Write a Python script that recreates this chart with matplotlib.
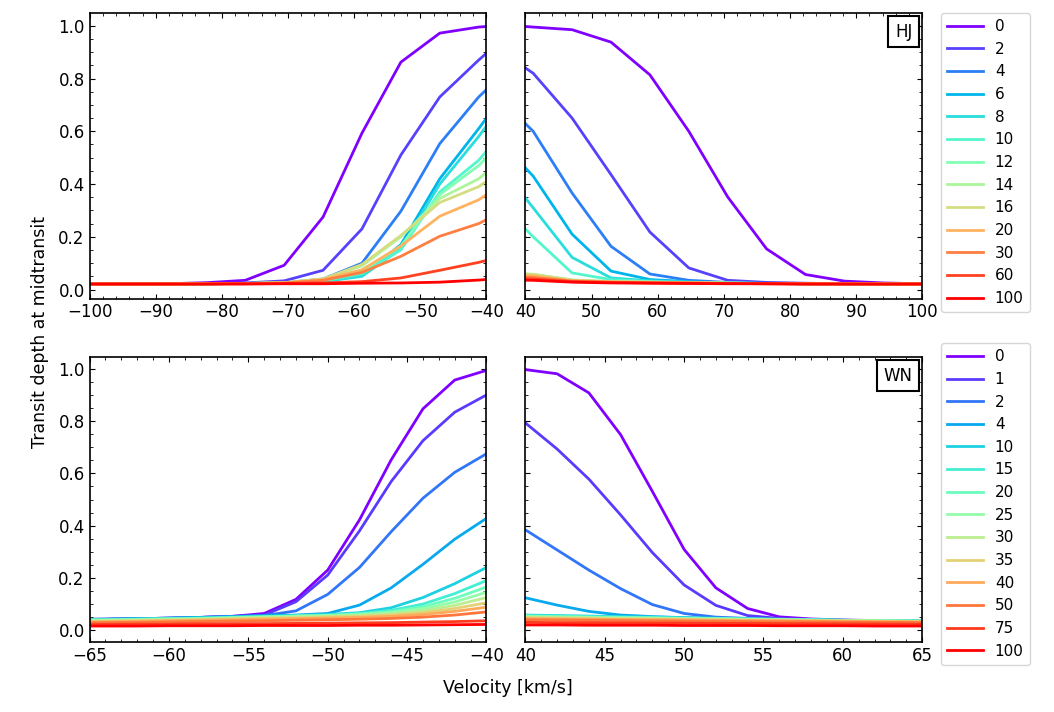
import numpy as np
import matplotlib
matplotlib.use("Agg")
import matplotlib.pyplot as plt
from matplotlib.ticker import AutoMinorLocator, MultipleLocator

# --- Data ---
# HJ model: velocity grid of 35 points from -100 to 100 km/s
HJ_V = np.linspace(-100, 100, 35)
HJ_V_LEFT = HJ_V[:12]     # -100 ... -35.3
HJ_V_RIGHT = HJ_V[23:]    # 35.3 ... 100
HJ_LABELS = ["0", "2", "4", "6", "8", "10", "12", "14", "16", "20", "30", "60", "100"]

HJ_LEFT = [
    [0.021, 0.021, 0.022, 0.026, 0.035, 0.092, 0.275, 0.593, 0.862, 0.972, 0.995, 1.005],
    [0.021, 0.021, 0.021, 0.022, 0.025, 0.033, 0.073, 0.230, 0.510, 0.730, 0.870, 1.000],
    [0.021, 0.021, 0.021, 0.022, 0.023, 0.026, 0.040, 0.100, 0.297, 0.553, 0.730, 0.870],
    [0.021, 0.021, 0.021, 0.022, 0.023, 0.025, 0.030, 0.055, 0.170, 0.420, 0.610, 0.810],
    [0.021, 0.021, 0.021, 0.022, 0.023, 0.025, 0.030, 0.050, 0.155, 0.400, 0.580, 0.780],
    [0.021, 0.021, 0.021, 0.022, 0.023, 0.025, 0.032, 0.060, 0.150, 0.370, 0.490, 0.665],
    [0.021, 0.021, 0.021, 0.022, 0.023, 0.025, 0.035, 0.070, 0.165, 0.360, 0.470, 0.620],
    [0.021, 0.021, 0.021, 0.022, 0.023, 0.026, 0.040, 0.090, 0.200, 0.345, 0.420, 0.540],
    [0.021, 0.021, 0.021, 0.022, 0.023, 0.026, 0.040, 0.095, 0.205, 0.330, 0.390, 0.490],
    [0.021, 0.021, 0.021, 0.022, 0.023, 0.025, 0.038, 0.075, 0.165, 0.278, 0.340, 0.440],
    [0.021, 0.021, 0.021, 0.022, 0.023, 0.025, 0.035, 0.065, 0.126, 0.202, 0.250, 0.325],
    [0.021, 0.021, 0.021, 0.021, 0.022, 0.023, 0.025, 0.030, 0.044, 0.073, 0.103, 0.140],
    [0.021, 0.021, 0.021, 0.021, 0.021, 0.022, 0.022, 0.024, 0.025, 0.028, 0.036, 0.046],
]

HJ_RIGHT = [
    [1.005, 0.995, 0.985, 0.938, 0.814, 0.600, 0.351, 0.154, 0.057, 0.032, 0.025, 0.022],
    [0.920, 0.820, 0.650, 0.436, 0.218, 0.082, 0.035, 0.027, 0.024, 0.022, 0.022, 0.021],
    [0.745, 0.600, 0.366, 0.164, 0.059, 0.035, 0.027, 0.024, 0.022, 0.022, 0.021, 0.021],
    [0.585, 0.430, 0.210, 0.070, 0.038, 0.030, 0.025, 0.023, 0.022, 0.022, 0.021, 0.021],
    [0.495, 0.310, 0.122, 0.044, 0.033, 0.028, 0.025, 0.023, 0.022, 0.022, 0.021, 0.021],
    [0.350, 0.200, 0.063, 0.038, 0.030, 0.027, 0.025, 0.023, 0.022, 0.022, 0.021, 0.021],
    [0.062, 0.057, 0.036, 0.030, 0.028, 0.026, 0.024, 0.023, 0.022, 0.022, 0.021, 0.021],
    [0.063, 0.058, 0.036, 0.030, 0.028, 0.026, 0.024, 0.023, 0.022, 0.022, 0.021, 0.021],
    [0.062, 0.057, 0.035, 0.030, 0.028, 0.026, 0.024, 0.023, 0.022, 0.022, 0.021, 0.021],
    [0.056, 0.052, 0.034, 0.029, 0.027, 0.025, 0.024, 0.023, 0.022, 0.022, 0.021, 0.021],
    [0.050, 0.046, 0.032, 0.028, 0.026, 0.025, 0.023, 0.022, 0.022, 0.021, 0.021, 0.021],
    [0.043, 0.040, 0.030, 0.027, 0.025, 0.024, 0.023, 0.022, 0.021, 0.021, 0.021, 0.021],
    [0.037, 0.035, 0.028, 0.025, 0.024, 0.023, 0.022, 0.022, 0.021, 0.021, 0.021, 0.021],
]

# WN model: velocity grid in steps of 2 km/s
WN_V_LEFT = np.arange(-66, -39, 2)
WN_V_RIGHT = np.arange(40, 67, 2)
WN_LABELS = ["0", "1", "2", "4", "10", "15", "20", "25", "30", "35", "40", "50", "75", "100"]

WN_LEFT = [
    [0.041, 0.042, 0.044, 0.046, 0.049, 0.053, 0.064, 0.118, 0.230, 0.422, 0.652, 0.847, 0.957, 0.994],
    [0.041, 0.042, 0.044, 0.046, 0.049, 0.053, 0.058, 0.109, 0.211, 0.380, 0.569, 0.725, 0.834, 0.900],
    [0.041, 0.042, 0.044, 0.046, 0.049, 0.052, 0.056, 0.074, 0.137, 0.240, 0.377, 0.505, 0.604, 0.675],
    [0.041, 0.042, 0.044, 0.046, 0.049, 0.052, 0.055, 0.058, 0.064, 0.096, 0.162, 0.252, 0.348, 0.428],
    [0.040, 0.041, 0.043, 0.045, 0.047, 0.050, 0.053, 0.056, 0.060, 0.067, 0.086, 0.125, 0.178, 0.240],
    [0.039, 0.040, 0.042, 0.044, 0.046, 0.049, 0.052, 0.055, 0.058, 0.064, 0.076, 0.100, 0.140, 0.190],
    [0.038, 0.039, 0.041, 0.043, 0.045, 0.048, 0.051, 0.054, 0.057, 0.062, 0.071, 0.090, 0.122, 0.165],
    [0.037, 0.038, 0.040, 0.042, 0.044, 0.047, 0.050, 0.053, 0.055, 0.059, 0.067, 0.082, 0.108, 0.145],
    [0.035, 0.036, 0.038, 0.040, 0.042, 0.045, 0.048, 0.050, 0.053, 0.056, 0.062, 0.074, 0.095, 0.125],
    [0.033, 0.034, 0.036, 0.038, 0.040, 0.043, 0.045, 0.047, 0.050, 0.053, 0.058, 0.067, 0.083, 0.105],
    [0.031, 0.032, 0.034, 0.036, 0.038, 0.040, 0.042, 0.044, 0.046, 0.049, 0.053, 0.060, 0.072, 0.088],
    [0.028, 0.029, 0.030, 0.032, 0.033, 0.035, 0.036, 0.038, 0.040, 0.042, 0.045, 0.050, 0.058, 0.070],
    [0.021, 0.022, 0.023, 0.023, 0.024, 0.025, 0.025, 0.026, 0.027, 0.028, 0.029, 0.031, 0.033, 0.036],
    [0.016, 0.016, 0.016, 0.017, 0.017, 0.017, 0.018, 0.018, 0.018, 0.019, 0.019, 0.020, 0.021, 0.022],
]

WN_RIGHT = [
    [0.997, 0.981, 0.908, 0.748, 0.531, 0.309, 0.162, 0.083, 0.051, 0.043, 0.039, 0.037, 0.035, 0.034],
    [0.793, 0.693, 0.578, 0.441, 0.297, 0.173, 0.095, 0.056, 0.045, 0.041, 0.038, 0.036, 0.035, 0.034],
    [0.384, 0.307, 0.230, 0.159, 0.098, 0.064, 0.050, 0.045, 0.042, 0.040, 0.038, 0.036, 0.035, 0.034],
    [0.124, 0.096, 0.072, 0.058, 0.052, 0.048, 0.045, 0.043, 0.041, 0.039, 0.037, 0.036, 0.035, 0.034],
    [0.058, 0.056, 0.054, 0.052, 0.050, 0.048, 0.046, 0.044, 0.042, 0.040, 0.038, 0.037, 0.036, 0.035],
    [0.056, 0.054, 0.052, 0.050, 0.048, 0.046, 0.045, 0.043, 0.041, 0.040, 0.038, 0.037, 0.036, 0.035],
    [0.054, 0.052, 0.050, 0.049, 0.047, 0.045, 0.044, 0.042, 0.041, 0.039, 0.038, 0.036, 0.035, 0.034],
    [0.052, 0.050, 0.049, 0.047, 0.046, 0.044, 0.043, 0.041, 0.040, 0.038, 0.037, 0.036, 0.035, 0.034],
    [0.050, 0.048, 0.047, 0.045, 0.044, 0.043, 0.041, 0.040, 0.039, 0.037, 0.036, 0.035, 0.034, 0.033],
    [0.047, 0.046, 0.044, 0.043, 0.042, 0.041, 0.039, 0.038, 0.037, 0.036, 0.035, 0.034, 0.033, 0.032],
    [0.044, 0.043, 0.042, 0.041, 0.040, 0.039, 0.038, 0.037, 0.036, 0.035, 0.034, 0.033, 0.032, 0.031],
    [0.040, 0.039, 0.038, 0.037, 0.036, 0.035, 0.034, 0.033, 0.032, 0.032, 0.031, 0.030, 0.030, 0.029],
    [0.030, 0.029, 0.029, 0.028, 0.027, 0.027, 0.026, 0.026, 0.025, 0.025, 0.024, 0.024, 0.023, 0.023],
    [0.020, 0.020, 0.019, 0.019, 0.019, 0.018, 0.018, 0.018, 0.017, 0.017, 0.017, 0.016, 0.016, 0.016],
]


def style_axis(ax, x_major):
    ax.tick_params(which="both", direction="in", top=True, right=True, labelsize=12)
    ax.xaxis.set_major_locator(MultipleLocator(x_major))
    ax.xaxis.set_minor_locator(AutoMinorLocator())
    ax.yaxis.set_major_locator(MultipleLocator(0.2))
    ax.yaxis.set_minor_locator(AutoMinorLocator())
    for sp in ax.spines.values():
        sp.set_linewidth(1.2)


def plot_row(ax_l, ax_r, vl, vr, left, right, labels, xlim_l, xlim_r, ylim, tag, x_major, legend_y):
    colors = plt.cm.rainbow(np.linspace(0, 1, len(labels)))
    for ys, c in zip(left, colors):
        ax_l.plot(vl, ys, color=c, lw=2)
    for ys, c, lab in zip(right, colors, labels):
        ax_r.plot(vr, ys, color=c, lw=2, label=lab)

    ax_l.set_xlim(*xlim_l)
    ax_r.set_xlim(*xlim_r)
    for ax in (ax_l, ax_r):
        ax.set_ylim(*ylim)
        style_axis(ax, x_major)
    ax_r.tick_params(labelleft=False)

    ax_r.text(0.975, 0.965, tag, transform=ax_r.transAxes, ha="right", va="top", fontsize=12,
              bbox=dict(boxstyle="square,pad=0.4", fc="white", ec="black", lw=1.5))
    ax_r.legend(loc="center left", bbox_to_anchor=(1.048, legend_y), borderaxespad=0,
                fontsize=11, handlelength=2.3)


fig, axes = plt.subplots(2, 2, figsize=(10.54, 7.12), dpi=100)
fig.subplots_adjust(left=0.085, right=0.875, top=0.982, bottom=0.098, wspace=0.098, hspace=0.203)

plot_row(axes[0, 0], axes[0, 1], HJ_V_LEFT, HJ_V_RIGHT, HJ_LEFT, HJ_RIGHT, HJ_LABELS,
         (-100, -40), (40, 100), (-0.034, 1.049), "HJ", 10, 0.476)
plot_row(axes[1, 0], axes[1, 1], WN_V_LEFT, WN_V_RIGHT, WN_LEFT, WN_RIGHT, WN_LABELS,
         (-65, -40), (40, 65), (-0.046, 1.047), "WN", 5, 0.484)

fig.text(0.038, 0.534, "Transit depth at midtransit", rotation=90, ha="center", va="center", fontsize=12.5)
fig.text(0.482, 0.034, "Velocity [km/s]", ha="center", va="center", fontsize=12.5)

fig.savefig("out.png", dpi=100)
